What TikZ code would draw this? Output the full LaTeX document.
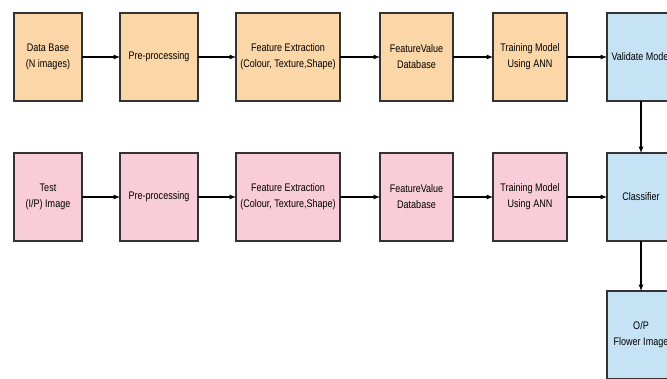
\documentclass[tikz,border=0pt]{standalone}
\usepackage{fontspec}
\setmainfont{Liberation Sans}[FakeStretch=0.82]
\usetikzlibrary{arrows,positioning}

\begin{document}
\begin{tikzpicture}[x=1pt,y=1pt]
\definecolor{trainfill}{HTML}{FBD7A8}
\definecolor{testfill}{HTML}{F8CDD7}
\definecolor{resultfill}{HTML}{C6E2F5}
\tikzset{
     box/.style={draw=black!80, line width=1.2pt, minimum height=88pt, align=center,
                 inner sep=1pt, outer sep=0pt, font=\fontsize{11}{16}\selectfont},
     train/.style={box, fill=trainfill},
     test/.style={box, fill=testfill},
     result/.style={box, fill=resultfill},
     arrow/.style={->, >=latex, line width=1.2pt}}

\useasboundingbox (0,0) rectangle (667,-378);
\fill[white] (0,0) rectangle (667,-378);

% The training row
\node (db) [train, minimum width=68pt, anchor=north west] at (14,-13) {Data Base\\(N images)};
\node (pre1) [train, minimum width=78pt, right=38pt of db] {Pre-processing};
\node (feat1) [train, minimum width=104pt, right=38pt of pre1] {Feature Extraction\\(Colour, Texture,Shape)};
\node (fvdb1) [train, minimum width=73pt, right=40pt of feat1] {FeatureValue\\Database};
\node (ann1) [train, minimum width=74pt, right=40pt of fvdb1] {Training Model\\Using ANN};
\node (valid) [result, minimum width=68pt, right=40pt of ann1] {Validate Model};

% The test row
\node (img) [test, minimum width=68pt, below=52pt of db] {Test\\(I/P) Image};
\node (pre2) [test, minimum width=78pt, right=38pt of img] {Pre-processing};
\node (feat2) [test, minimum width=104pt, right=38pt of pre2] {Feature Extraction\\(Colour, Texture,Shape)};
\node (fvdb2) [test, minimum width=73pt, right=40pt of feat2] {FeatureValue\\Database};
\node (ann2) [test, minimum width=74pt, right=40pt of fvdb2] {Training Model\\Using ANN};
\node (classify) [result, minimum width=68pt, right=40pt of ann2] {Classifier};

% The output
\node (out) [result, minimum width=68pt, below=50pt of classify] {O/P\\Flower Image};

% The arrows
\draw [arrow] (db) -- (pre1);
\draw [arrow] (pre1) -- (feat1);
\draw [arrow] (feat1) -- (fvdb1);
\draw [arrow] (fvdb1) -- (ann1);
\draw [arrow] (ann1) -- (valid);

\draw [arrow] (img) -- (pre2);
\draw [arrow] (pre2) -- (feat2);
\draw [arrow] (feat2) -- (fvdb2);
\draw [arrow] (fvdb2) -- (ann2);
\draw [arrow] (ann2) -- (classify);

\draw [arrow] (valid) -- (classify);
\draw [arrow] (classify) -- (out);
\end{tikzpicture}
\end{document}
